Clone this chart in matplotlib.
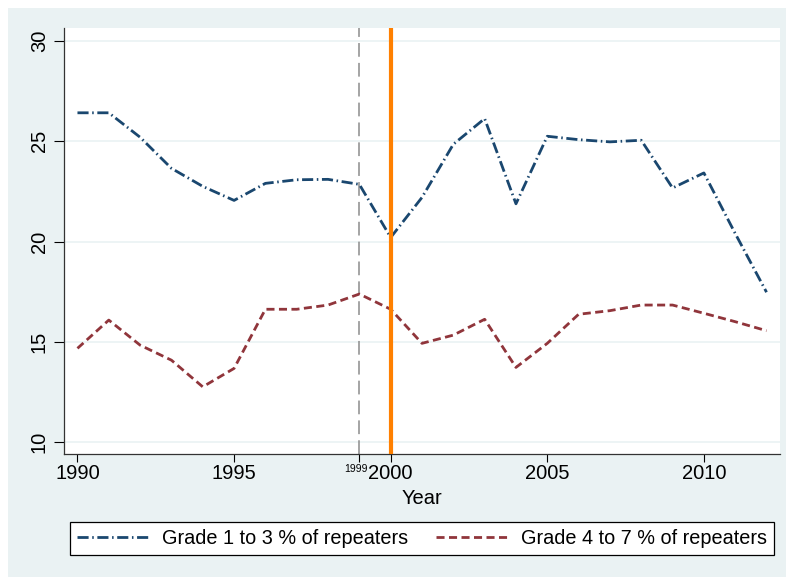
import matplotlib
matplotlib.use("Agg")
import matplotlib.pyplot as plt
from matplotlib.patches import Rectangle
from matplotlib.transforms import offset_copy

plt.rcParams['font.family'] = ['Liberation Sans', 'DejaVu Sans']

years = list(range(1990, 2013))
grade_1_3 = [26.42, 26.42, 25.2, 23.65, 22.75, 22.05, 22.9, 23.08, 23.1, 22.85,
             20.2, 22.2, 24.85, 26.13, 21.88, 25.25, 25.08, 24.97, 25.05, 22.67,
             23.42, 20.4, 17.47]
grade_4_7 = [14.67, 16.08, 14.83, 14.08, 12.75, 13.67, 16.62, 16.62, 16.83, 17.38,
             16.62, 14.92, 15.33, 16.12, 13.72, 14.92, 16.37, 16.55, 16.83, 16.83,
             16.42, 16.0, 15.55]
xticks = [1990, 1995, 2000, 2005, 2010]
yticks = [10, 15, 20, 25, 30]
marker_year = 1999
reform_year = 2000

bg = '#EAF2F3'
W, H = 786, 577
fig = plt.figure(figsize=(W / 100, H / 100), dpi=100, facecolor='white')
fig.patches.append(Rectangle((8 / W, 0), 1 - 8 / W, 1 - 8 / H,
                             transform=fig.transFigure, facecolor=bg,
                             edgecolor='none', zorder=-10))

ax = fig.add_axes([64 / W, 1 - 454 / H, 716 / W, 426 / H])
ax.set_facecolor('white')

for y in yticks:
    ax.axhline(y, color=bg, lw=1.2, zorder=1)

ax.plot(years, grade_1_3, color='#1A476F', lw=2,
        dashes=(4, 1.3, 0.55, 1.3), label='Grade 1 to 3 % of repeaters', zorder=3)
ax.plot(years, grade_4_7, color='#90353B', lw=2,
        dashes=(2.9, 1.6), label='Grade 4 to 7 % of repeaters', zorder=3)

ax.axvline(marker_year, color='#8C8C8C', lw=1.1, dashes=(9, 4), zorder=2)
ax.axvline(reform_year, color='#FF8000', lw=3, zorder=4)

ax.set_xlim(1989.57, 2012.43)
ax.set_ylim(9.4, 30.65)

ax.set_xticks(xticks)
ax.set_xticks([marker_year], minor=True)
ax.set_xticklabels([str(x) for x in xticks], fontsize=14.5)
ax.set_xticklabels([str(marker_year)], minor=True, fontsize=7.5)
ax.set_yticks(yticks)
ax.set_yticklabels([str(y) for y in yticks], fontsize=14.5, rotation=90, va='center')

ax.tick_params(axis='x', which='major', length=6, width=0.8, pad=1.5)
ax.tick_params(axis='x', which='minor', length=6, width=0.8, pad=1)
ax.tick_params(axis='y', length=7, width=0.8, pad=4)

# nudge the small 1999 label left so it sits beside 2000
for lbl in ax.get_xticklabels(minor=True):
    lbl.set_transform(offset_copy(lbl.get_transform(), fig=fig, x=-2.5, units='points'))

for side in ['top', 'right']:
    ax.spines[side].set_visible(False)
for side in ['left', 'bottom']:
    ax.spines[side].set_color('#333333')
    ax.spines[side].set_linewidth(0.9)

ax.set_xlabel('Year', fontsize=14.5, labelpad=4)

leg = fig.legend(loc='center', bbox_to_anchor=((71 + 773) / 2 / W, 1 - 538.5 / H),
                 ncol=2, fontsize=14.3, frameon=True, fancybox=False,
                 handlelength=3.7, handletextpad=0.6, columnspacing=1.4,
                 borderpad=0.35, edgecolor='black', framealpha=1)
leg.get_frame().set_linewidth(0.9)

fig.savefig('out.png', dpi=100, facecolor='white')
